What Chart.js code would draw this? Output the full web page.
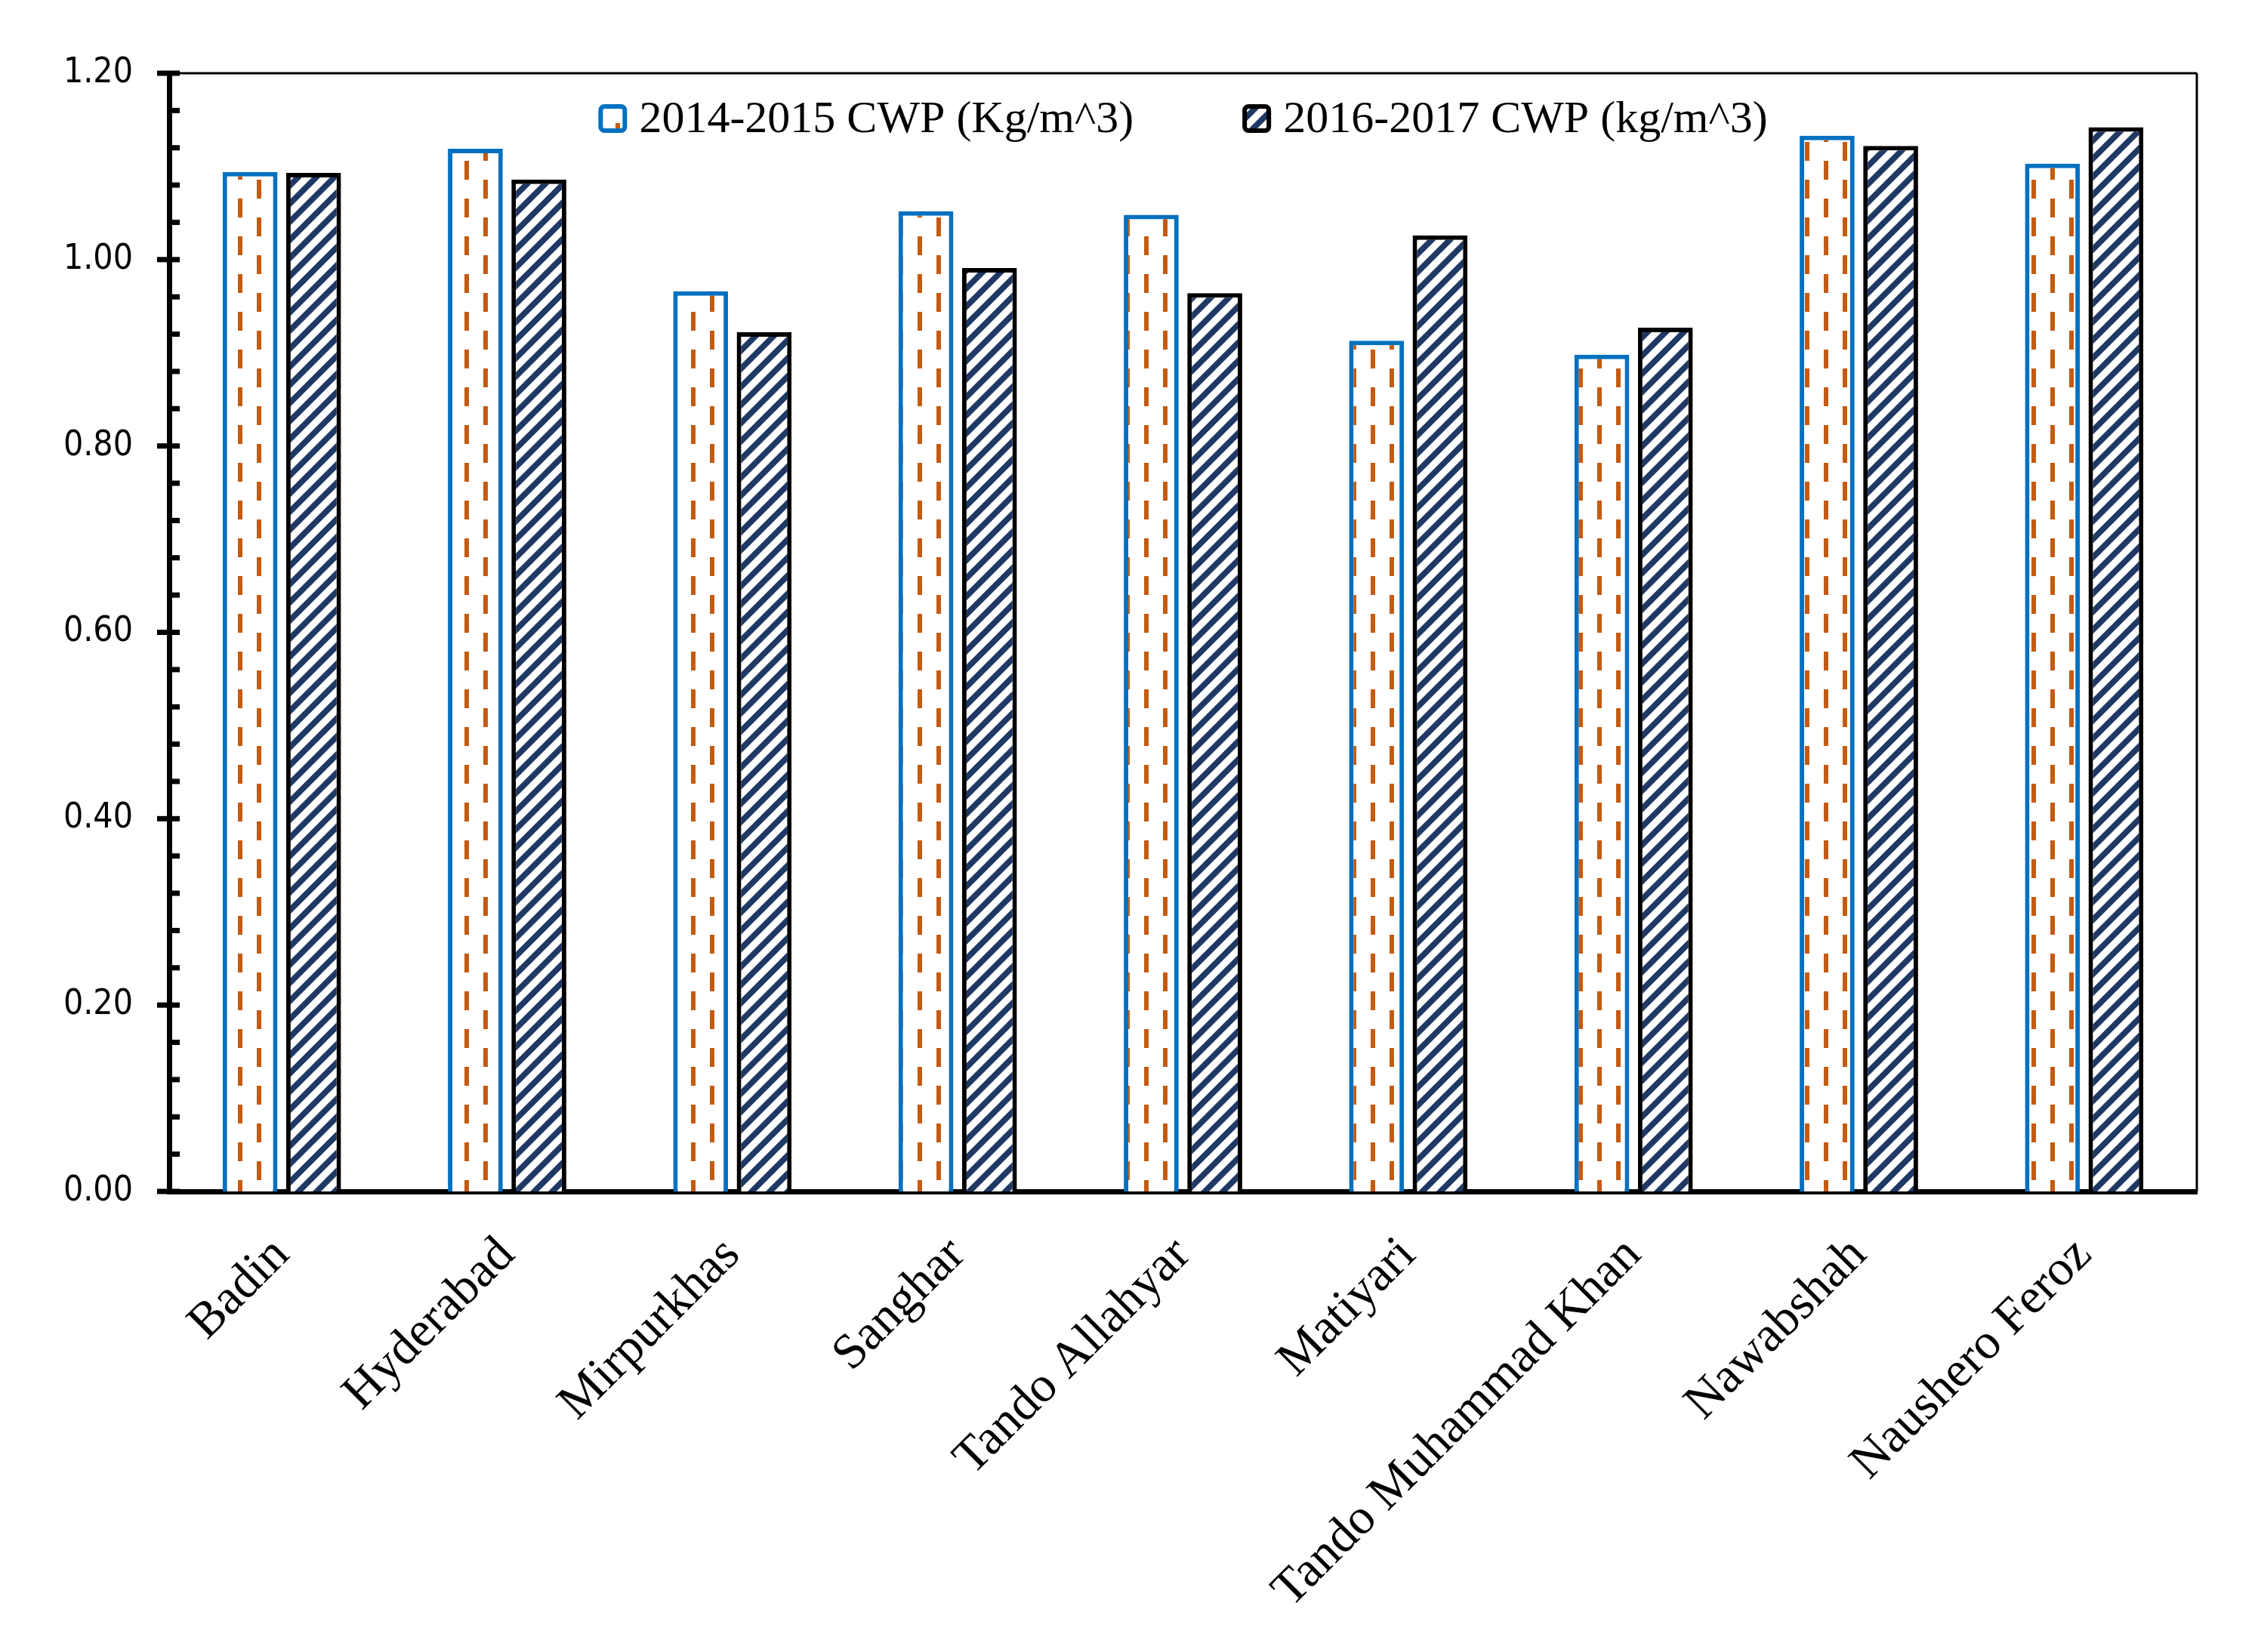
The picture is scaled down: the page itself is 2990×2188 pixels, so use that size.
<!DOCTYPE html>
<html>
<head>
<meta charset="utf-8">
<script src="https://cdn.jsdelivr.net/npm/chart.js@4.4.1/dist/chart.umd.min.js"></script>
<style>
  html, body { margin: 0; padding: 0; background: #fff; }
</style>
</head>
<body>
<canvas id="myChart" width="2990" height="2188"></canvas>
<script>
const districts = ["Badin", "Hyderabad", "Mirpurkhas", "Sanghar", "Tando Allahyar", "Matiyari", "Tando Muhammad Khan", "Nawabshah", "Naushero Feroz"];
const cwp2014 = [1.094, 1.119, 0.966, 1.052, 1.048, 0.913, 0.898, 1.133, 1.103];
const cwp2016 = [1.093, 1.086, 0.922, 0.991, 0.964, 1.026, 0.927, 1.122, 1.142];
const label2014 = "2014-2015 CWP (Kg/m^3)";
const label2016 = "2016-2017 CWP (kg/m^3)";
const yMin = 0;
const yMax = 1.2;
const yStep = 0.04;

function dashPattern() {
  const c = document.createElement("canvas");
  c.width = 50;
  c.height = 50;
  const g = c.getContext("2d");
  g.fillStyle = "#fff";
  g.fillRect(0, 0, 50, 50);
  g.fillStyle = "#C55A11";
  g.fillRect(15, 13, 6, 25);
  g.fillRect(40, 38, 6, 12);
  g.fillRect(40, 0, 6, 13);
  return g.createPattern(c, "repeat");
}

function stripePattern() {
  const c = document.createElement("canvas");
  c.width = 24;
  c.height = 24;
  const g = c.getContext("2d");
  g.fillStyle = "#fff";
  g.fillRect(0, 0, 24, 24);
  g.fillStyle = "#1F3864";
  g.beginPath();
  g.moveTo(0, 0); g.lineTo(11, 0); g.lineTo(0, 11);
  g.closePath();
  g.fill();
  g.beginPath();
  g.moveTo(0, 24); g.lineTo(24, 0); g.lineTo(24, 11); g.lineTo(11, 24);
  g.closePath();
  g.fill();
  return g.createPattern(c, "repeat");
}

// ticks on the y axis (major cross the axis, minor inside) + top/right frame
const axisTicks = {
  id: "axisTicks",
  afterDraw(chart) {
    const ctx = chart.ctx;
    const area = chart.chartArea;
    const y = chart.scales.y;
    ctx.save();
    ctx.fillStyle = "#000";
    ctx.fillRect(area.left, area.top - 1.5, area.right - area.left, 3);
    ctx.fillRect(area.right - 1.5, area.top, 3, area.bottom - area.top);
    y.ticks.forEach((t, i) => {
      const py = y.getPixelForTick(i);
      const major = Math.round(t.value * 100) % 20 === 0;
      if (major) {
        ctx.fillRect(area.left - 16, py - 3.5, 30, 7);
      } else {
        ctx.fillRect(area.left, py - 3.5, 14, 7);
      }
    });
    ctx.restore();
  }
};

// legend drawn inside the plot area, centred
const innerLegend = {
  id: "innerLegend",
  afterDraw(chart) {
    const ctx = chart.ctx;
    const area = chart.chartArea;
    const box = 38;
    const gapText = 16;
    const gapItem = 144;
    ctx.save();
    ctx.font = "60px 'Liberation Serif'";
    const items = chart.data.datasets.map((ds) => ({ ds: ds, w: ctx.measureText(ds.label).width }));
    let total = gapItem * (items.length - 1);
    items.forEach((it) => { total += box + gapText + it.w; });
    let x = (area.left + area.right) / 2 - total / 2;
    const cy = area.top + 60;
    items.forEach((it) => {
      ctx.beginPath();
      ctx.roundRect(x + 3, cy - box / 2 + 3, box - 6, box - 6, 5);
      ctx.fillStyle = it.ds.backgroundColor;
      ctx.fill();
      ctx.lineWidth = 6;
      ctx.strokeStyle = it.ds.borderColor;
      ctx.stroke();
      ctx.fillStyle = "#000";
      ctx.textBaseline = "middle";
      ctx.textAlign = "left";
      ctx.fillText(it.ds.label, x + box + gapText, cy + 2);
      x += box + gapText + it.w + gapItem;
    });
    ctx.restore();
  }
};

const divChart = document.getElementById("myChart");

const myChart = new Chart(divChart, {
  type: "bar",
  data: {
    labels: districts,
    datasets: [
      {
        label: label2014,
        data: cwp2014,
        backgroundColor: dashPattern(),
        borderColor: "#0070C0",
        borderWidth: 6,
        categoryPercentage: 0.564,
        barPercentage: 0.864,
      },
      {
        label: label2016,
        data: cwp2016,
        backgroundColor: stripePattern(),
        borderColor: "#000000",
        borderWidth: 6,
        categoryPercentage: 0.564,
        barPercentage: 0.864,
      },
    ],
  },
  options: {
    responsive: false,
    devicePixelRatio: 1,
    animation: false,
    layout: { padding: { top: 97, right: 81, left: 0, bottom: 0 } },
    plugins: {
      legend: { display: false },
      tooltip: { enabled: false },
    },
    scales: {
      x: {
        grid: { display: false },
        border: { display: true, color: "#000", width: 7 },
        ticks: {
          color: "#000",
          font: { family: "'Liberation Serif'", size: 66 },
          minRotation: 45,
          maxRotation: 45,
          autoSkip: false,
          padding: 38,
        },
        afterFit(scale) { scale.height = 610; },
      },
      y: {
        min: yMin,
        max: yMax,
        grid: { display: false },
        border: { display: true, color: "#000", width: 7 },
        ticks: {
          stepSize: yStep,
          autoSkip: false,
          color: "#000",
          font: { family: "'DejaVu Sans Condensed', 'DejaVu Sans'", size: 46 },
          padding: 40,
          callback: (v) => (Math.round(v * 100) % 20 === 0 ? Number(v).toFixed(2) : ""),
        },
        afterFit(scale) { scale.width = 224; },
      },
    },
  },
  plugins: [axisTicks, innerLegend],
});
</script>
</body>
</html>
